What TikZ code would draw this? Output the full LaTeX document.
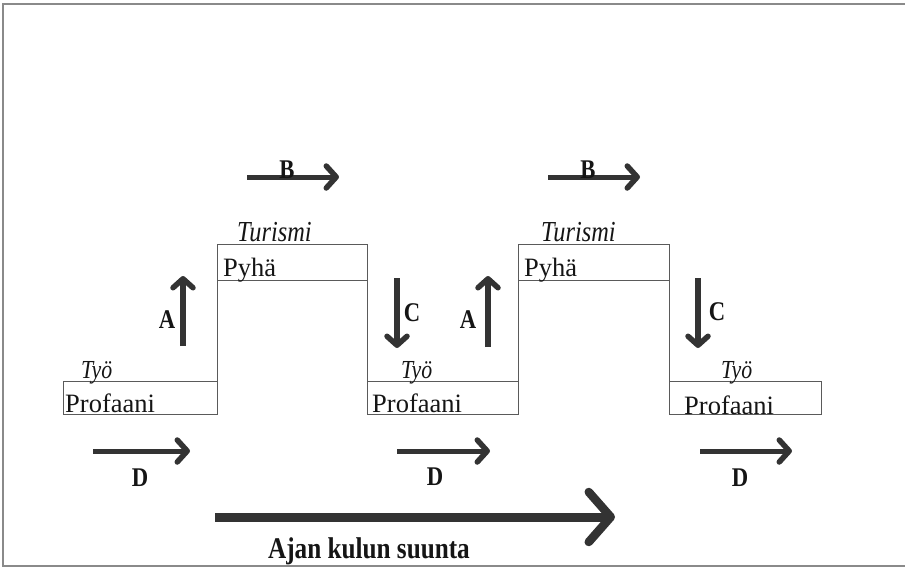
\documentclass[tikz,border=0pt]{standalone}
\usepackage{fontspec}
\setmainfont{Liberation Serif}
\newfontfamily\condf[FakeStretch=0.84]{Liberation Serif}
\usetikzlibrary{arrows.meta}
\definecolor{ink}{HTML}{151515}
\definecolor{arr}{HTML}{333333}
\definecolor{boxline}{HTML}{5A5A5A}
\definecolor{framec}{HTML}{8A8A8A}
\tikzset{
  boxln/.style={draw=boxline, line width=1pt},
  regtxt/.style={inner sep=0pt, anchor=base west, text=ink, font=\fontsize{26.5}{30}\selectfont},
  ittxt/.style={inner sep=0pt, anchor=base west, text=ink, font=\condf\itshape\fontsize{29}{32}\selectfont},
  itsmall/.style={inner sep=0pt, anchor=base west, text=ink, font=\condf\itshape\fontsize{26}{28}\selectfont},
  lettr/.style={inner sep=0pt, text=ink, font=\condf\bfseries\fontsize{27}{30}\selectfont},
  smallarr/.style={draw=arr, line width=6pt, -{Straight Barb[length=9pt,width=20pt,line width=5.5pt,round]}},
  harr/.style={draw=arr, line width=5pt, -{Straight Barb[length=10pt,width=22pt,line width=5.5pt,round]}},
  bigarr/.style={draw=arr, line width=9pt, -{Straight Barb[length=22pt,width=50pt,line width=8.5pt,round]}},
}
\begin{document}
\begin{tikzpicture}[x=1pt,y=-1pt]
\useasboundingbox (0,0) rectangle (905,568);
% frame
\draw[framec, line width=1.5pt] (905,4) -- (3,4) -- (3,566) -- (905,566);

% step outline
\draw[boxln] (63,381) rectangle (217,414);
\draw[boxln] (217,414) -- (217,244) -- (367,244) -- (367,414);
\draw[boxln] (217,280) -- (367,280);
\draw[boxln] (367,381) rectangle (518,414);
\draw[boxln] (518,414) -- (518,244) -- (669,244) -- (669,414);
\draw[boxln] (518,280) -- (669,280);
\draw[boxln] (669,381) rectangle (821,414);

% texts
\node[itsmall] (tyo1) at (81,378) {Työ};
\node[regtxt] (prof1) at (65,412) {Profaani};
\node[ittxt] (tur1) at (237,241) {Turismi};
\node[regtxt] (pyha1) at (223,276) {Pyhä};
\node[itsmall] (tyo2) at (401,378) {Työ};
\node[regtxt] (prof2) at (372,412) {Profaani};
\node[ittxt] (tur2) at (541,241) {Turismi};
\node[regtxt] (pyha2) at (524,276) {Pyhä};
\node[itsmall] (tyo3) at (721,378) {Työ};
\node[regtxt] (prof3) at (684,414) {Profaani};

% A arrows
\coordinate (a1s) at (183,346); \coordinate (a1e) at (183,276);
\draw[smallarr] (a1s) -- (a1e);
\node[lettr] (la1) at (167,320) {A};
\coordinate (a2s) at (488,347); \coordinate (a2e) at (488,276);
\draw[smallarr] (a2s) -- (a2e);
\node[lettr] (la2) at (468,320) {A};

% C arrows
\coordinate (c1s) at (397,278); \coordinate (c1e) at (397,348);
\draw[smallarr] (c1s) -- (c1e);
\node[lettr] (lc1) at (412,313) {C};
\coordinate (c2s) at (698,278); \coordinate (c2e) at (698,348);
\draw[smallarr] (c2s) -- (c2e);
\node[lettr] (lc2) at (717,312) {C};

% B arrows
\coordinate (b1s) at (247,177); \coordinate (b1e) at (339,177);
\draw[harr] (b1s) -- (b1e);
\node[lettr, anchor=base] (lb1) at (287,178) {B};
\coordinate (b2s) at (548,177); \coordinate (b2e) at (640,177);
\draw[harr] (b2s) -- (b2e);
\node[lettr, anchor=base] (lb2) at (588,178) {B};

% D arrows
\coordinate (d1s) at (93,451); \coordinate (d1e) at (190,451);
\draw[harr] (d1s) -- (d1e);
\node[lettr] (ld1) at (140,478) {D};
\coordinate (d2s) at (397,451); \coordinate (d2e) at (490,451);
\draw[harr] (d2s) -- (d2e);
\node[lettr] (ld2) at (435,477) {D};
\coordinate (d3s) at (700,451); \coordinate (d3e) at (792,451);
\draw[harr] (d3s) -- (d3e);
\node[lettr] (ld3) at (740,478) {D};

% time arrow
\coordinate (ts) at (215,517); \coordinate (te) at (615,517);
\draw[bigarr] (ts) -- (te);
\node[inner sep=0pt, text=ink, font=\condf\bfseries\fontsize{30}{32}\selectfont] (time) at (369,551) {Ajan kulun suunta};
\end{tikzpicture}
\end{document}
